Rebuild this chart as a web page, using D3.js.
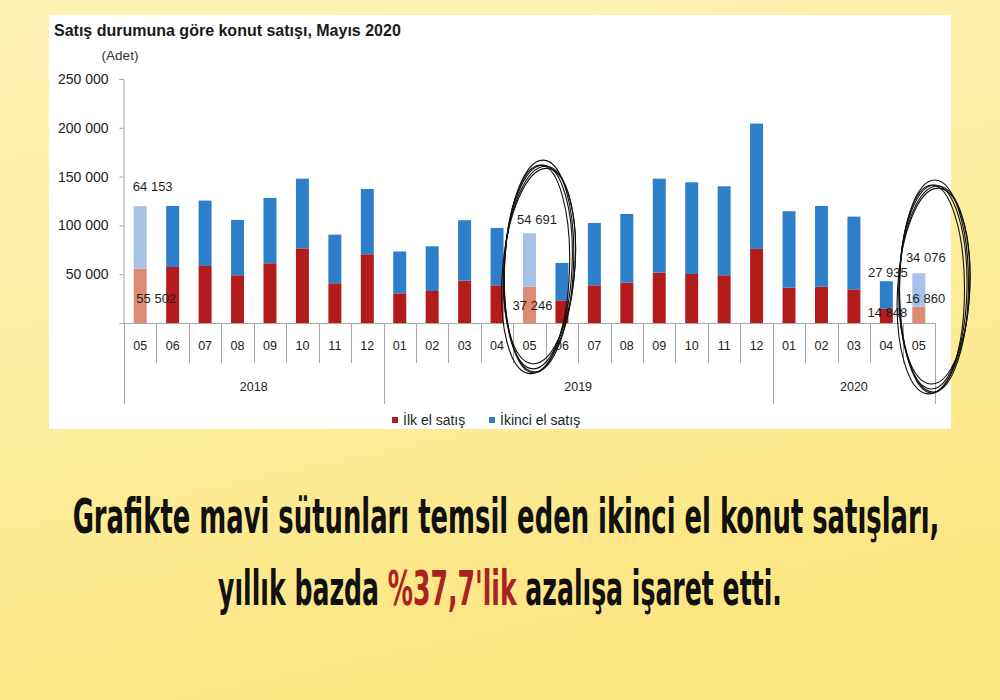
<!DOCTYPE html>
<html>
<head>
<meta charset="utf-8">
<script src="https://cdn.jsdelivr.net/npm/d3@7"></script>
<style>
  html, body { margin: 0; padding: 0; }
  body { width: 1000px; height: 700px; overflow: hidden; }
  svg { display: block; }
</style>
</head>
<body>
<svg id="chart" width="1000" height="700"></svg>
<script>
// ---- Data ----
const months = ["05","06","07","08","09","10","11","12",
                "01","02","03","04","05","06","07","08","09","10","11","12",
                "01","02","03","04","05"];
const years = ["2018","2019","2020"];
const yearCounts = [8, 12, 5];
const firstHand = [55502, 57400, 58400, 48900, 61200, 76500, 40700, 70400,
                   30400, 32800, 43400, 38600, 37246, 23200, 38600, 41300, 51600, 50200, 48900, 75900,
                   36200, 37200, 34500, 14848, 16860];
const secondHand = [64153, 62600, 67000, 56700, 66900, 71400, 49800, 66900,
                    42900, 45800, 61900, 58800, 54691, 38300, 63900, 70400, 96300, 94000, 91200, 128400,
                    78300, 82700, 74500, 27935, 34076];
const highlighted = [0, 12, 24];
const yTicks = [0, 50000, 100000, 150000, 200000, 250000];
const seriesNames = ["İlk el satış", "İkinci el satış"];
const title = "Satış durumuna göre konut satışı, Mayıs 2020";
const unitLabel = "(Adet)";
const captionLine1 = "Grafikte mavi sütunları temsil eden ikinci el konut satışları,";
const captionLine2 = ["yıllık bazda ", "%37,7'lik", " azalışa işaret etti."];

// ---- Styles ----
const colRed = "#b41c1c", colBlue = "#2c7fc8";
const colRedLight = "#df8b73", colBlueLight = "#a6c2e8";
const axisCol = "#a6a6a6";
const fontChart = "'Liberation Sans', Arial, sans-serif";

const svg = d3.select("#chart");

// background
const defs = svg.append("defs");
const grad = defs.append("linearGradient").attr("id","bg")
  .attr("x1","0").attr("y1","0").attr("x2","0.3").attr("y2","1");
grad.append("stop").attr("offset","0").attr("stop-color","#fdf3b6");
grad.append("stop").attr("offset","0.5").attr("stop-color","#fdeea0");
grad.append("stop").attr("offset","1").attr("stop-color","#fde582");
svg.append("rect").attr("width",1000).attr("height",700).attr("fill","url(#bg)");

// white panel
svg.append("rect").attr("x",49).attr("y",15).attr("width",902).attr("height",414).attr("fill","#ffffff");

// title
svg.append("text").attr("x",54).attr("y",36)
  .attr("font-family",fontChart).attr("font-weight","bold").attr("font-size",16)
  .attr("fill","#1a1a1a").text(title);
svg.append("text").attr("x",120).attr("y",60).attr("text-anchor","middle")
  .attr("font-family",fontChart).attr("font-size",13.5).attr("fill","#333").text(unitLabel);

// scales
const x = d3.scaleBand().domain(d3.range(months.length)).range([124, 935])
  .paddingInner(0.6).paddingOuter(0.3);
const y = d3.scaleLinear().domain([0, 250000]).range([323, 79]);

// y axis
const yAxis = d3.axisLeft(y).tickValues(yTicks).tickSize(4).tickPadding(11)
  .tickFormat(d => d === 0 ? "" : d3.format(",")(d).replace(/,/g, " "));
const yg = svg.append("g").attr("transform","translate(123.5,0)").call(yAxis);
yg.select(".domain").attr("stroke",axisCol);
yg.selectAll(".tick line").attr("stroke",axisCol);
yg.selectAll(".tick text").attr("font-family",fontChart).attr("font-size",14).attr("fill","#222");

// bars
const data = months.map((m,i) => ({i, first: firstHand[i], second: secondHand[i], hl: highlighted.includes(i)}));
const bars = svg.append("g");
bars.selectAll("rect.first").data(data).join("rect").attr("class","first")
  .attr("x", d => x(d.i)).attr("width", x.bandwidth())
  .attr("y", d => y(d.first)).attr("height", d => y(0) - y(d.first))
  .attr("fill", d => d.hl ? colRedLight : colRed);
bars.selectAll("rect.second").data(data).join("rect").attr("class","second")
  .attr("x", d => x(d.i)).attr("width", x.bandwidth())
  .attr("y", d => y(d.first + d.second)).attr("height", d => y(d.first) - y(d.first + d.second))
  .attr("fill", d => d.hl ? colBlueLight : colBlue);

// x axis (category axis with separators)
const step = x.step();
const x0 = 124, x1 = 935;
svg.append("line").attr("x1",x0).attr("x2",x1).attr("y1",323.5).attr("y2",323.5).attr("stroke",axisCol);
const boundaries = d3.range(months.length + 1).map(k => x0 + k * step);
const yearBoundaryIdx = [0, 8, 20, 25];
svg.append("g").selectAll("line").data(boundaries).join("line")
  .attr("x1", d => Math.round(d) + 0.5).attr("x2", d => Math.round(d) + 0.5)
  .attr("y1", 323).attr("y2", (d,k) => yearBoundaryIdx.includes(k) ? 404 : 363)
  .attr("stroke", axisCol);
svg.append("g").selectAll("text").data(months).join("text")
  .attr("x", (d,i) => x(i) + x.bandwidth()/2).attr("y", 350)
  .attr("text-anchor","middle").attr("font-family",fontChart).attr("font-size",12.5)
  .attr("fill","#222").text(d => d);
let acc = 0;
const yearPos = yearCounts.map(c => { const s = acc; acc += c; return (x0 + s*step + x0 + acc*step)/2; });
svg.append("g").selectAll("text").data(years).join("text")
  .attr("x", (d,i) => yearPos[i]).attr("y", 391)
  .attr("text-anchor","middle").attr("font-family",fontChart).attr("font-size",12.5)
  .attr("fill","#222").text(d => d);

// value labels on highlighted bars
const fmt = v => d3.format(",")(v).replace(/,/g, " ");
const cx = i => x(i) + x.bandwidth()/2;
const labels = [
  {i:0,  v: secondHand[0],  dx: 12.5, yy: y(firstHand[0] + secondHand[0]) - 15.5},
  {i:0,  v: firstHand[0],   dx: 16,   yy: y(0) - 20.5},
  {i:12, v: secondHand[12], dx: 7.5,  yy: y(firstHand[12] + secondHand[12]) - 9.3},
  {i:12, v: firstHand[12],  dx: 3,    yy: y(0) - 13},
  {i:23, v: secondHand[23], dx: 1.5,  yy: y(firstHand[23] + secondHand[23]) - 4.6},
  {i:23, v: firstHand[23],  dx: 1,    yy: y(0) - 6.3},
  {i:24, v: secondHand[24], dx: 7,    yy: y(firstHand[24] + secondHand[24]) - 11.6},
  {i:24, v: firstHand[24],  dx: 6.5,  yy: y(0) - 20.3}
];
svg.append("g").selectAll("text").data(labels).join("text")
  .attr("x", d => cx(d.i) + d.dx).attr("y", d => d.yy)
  .attr("text-anchor","middle").attr("font-family",fontChart).attr("font-size",13)
  .attr("fill","#1f1f1f").text(d => fmt(d.v));

// legend
const legend = svg.append("g");
const legendItems = [{name: seriesNames[0], col: colRed, x: 392}, {name: seriesNames[1], col: colBlue, x: 489}];
legendItems.forEach(it => {
  legend.append("rect").attr("x", it.x).attr("y", 417).attr("width", 6).attr("height", 6).attr("fill", it.col);
  legend.append("text").attr("x", it.x + 11).attr("y", 425).attr("font-family",fontChart)
    .attr("font-size",14).attr("fill","#222").text(it.name);
});

// hand-drawn ellipses
function scribble(cx0, cy0, rx, ry, rot) {
  const g = svg.append("g").attr("fill","none").attr("stroke","#111").attr("stroke-width",1.1);
  const variants = [[0,0,0,0,0],[1.5,-2,1.5,-3,1],[-1,2,-1.5,2,-1],[0.5,4,2,1,2],[1,-1,0.5,4,-0.5]];
  variants.forEach(v => {
    g.append("ellipse").attr("cx", cx0 + v[0]).attr("cy", cy0 + v[1])
      .attr("rx", rx + v[2]).attr("ry", ry + v[3])
      .attr("transform", `rotate(${rot + v[4]},${cx0 + v[0]},${cy0 + v[1]})`);
  });
}
scribble(538, 267, 34, 102, 3);
scribble(933, 287, 34, 102, 1);

// caption
const fontCap = "'Liberation Sans Narrow', 'DejaVu Sans Condensed', 'Liberation Sans', sans-serif";
function caption(parts, cxp, baseline, width) {
  const g = svg.append("g");
  const t = g.append("text").attr("x", 0).attr("y", 0).attr("text-anchor","middle")
    .attr("font-family", fontCap).attr("font-weight","bold").attr("font-size", 48);
  parts.forEach(p => t.append("tspan").attr("fill", p.col).text(p.text));
  const w = t.node().getComputedTextLength();
  g.attr("transform", `translate(${cxp},${baseline}) scale(${width / w},1)`);
}
caption([{text: captionLine1, col: "#111"}], 506, 533, 867);
caption([{text: captionLine2[0], col: "#111"}, {text: captionLine2[1], col: "#a8231f"}, {text: captionLine2[2], col: "#111"}], 500, 605, 564);
</script>
</body>
</html>
